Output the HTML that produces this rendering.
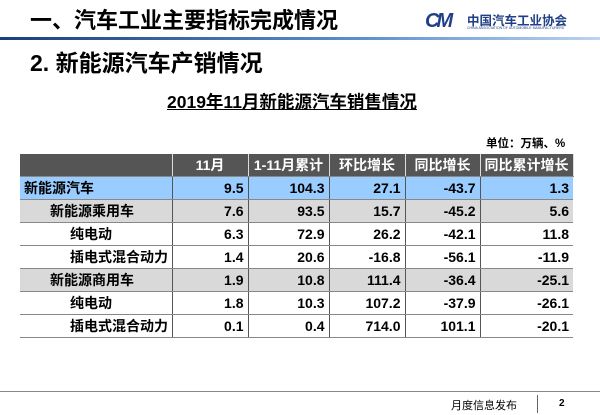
<!DOCTYPE html>
<html><head><meta charset="utf-8"><style>
body{margin:0;width:600px;height:415px;background:#fff;position:relative;overflow:hidden;font-family:"Liberation Sans","Noto Sans CJK SC",sans-serif;font-weight:bold;color:#000}
.a{position:absolute;white-space:nowrap}
table{position:absolute;left:20px;top:154px;border-collapse:collapse;font-size:14px;table-layout:fixed;width:553px}
td{height:23px;padding:0 4px;text-align:right;border-right:1px solid #555;border-bottom:1.5px solid #888;box-sizing:border-box;white-space:nowrap;overflow:visible}
td:last-child{border-right:none}
tr.h td{background:#555;color:#fff;text-align:center;border-right:1px solid #ddd;height:22px;padding:0}
tr.b td{background:#99ccff}
tr.g td{background:#d9d9d9}
td.n{text-align:left}
</style></head><body>
<div class="a" style="left:30px;top:3px;font-size:22px">一、汽车工业主要指标完成情况</div>
<div class="a" style="left:0;top:37px;width:600px;height:3px;background:linear-gradient(90deg,#1a3f7a,#5b8fd0 60%,#bcd4ef)"></div>
<div class="a" style="left:425px;top:12px;width:36px;height:18px;font-size:20px;color:#1f3f86;font-style:italic;letter-spacing:-3px;line-height:18px">CM</div>
<div class="a" style="left:467px;top:10px;font-size:12.5px;color:#1f3f86">中国汽车工业协会</div>
<div class="a" style="left:467px;top:26px;font-size:3.5px;color:#1f3f86;font-weight:normal">CHINA ASSOCIATION OF AUTOMOBILE MANUFACTURERS</div>
<div class="a" style="left:30px;top:44px;font-size:23px">2. 新能源汽车产销情况</div>
<div class="a" style="left:167px;top:89px;font-size:17.5px;text-decoration:underline">2019年11月新能源汽车销售情况</div>
<div class="a" style="left:486px;top:135px;font-size:11.5px">单位：万辆、%</div>
<table>
<colgroup><col style="width:152px"><col style="width:76px"><col style="width:81px"><col style="width:76px"><col style="width:75px"><col style="width:93px"></colgroup>
<tr class="h"><td></td><td>11月</td><td>1-11月累计</td><td>环比增长</td><td>同比增长</td><td>同比累计增长</td></tr>
<tr class="b"><td class="n">新能源汽车</td><td>9.5</td><td>104.3</td><td>27.1</td><td>-43.7</td><td>1.3</td></tr>
<tr class="g"><td class="n" style="padding-left:30px">新能源乘用车</td><td>7.6</td><td>93.5</td><td>15.7</td><td>-45.2</td><td>5.6</td></tr>
<tr><td class="n" style="padding-left:50px">纯电动</td><td>6.3</td><td>72.9</td><td>26.2</td><td>-42.1</td><td>11.8</td></tr>
<tr><td class="n" style="padding-left:50px">插电式混合动力</td><td>1.4</td><td>20.6</td><td>-16.8</td><td>-56.1</td><td>-11.9</td></tr>
<tr class="g"><td class="n" style="padding-left:30px">新能源商用车</td><td>1.9</td><td>10.8</td><td>111.4</td><td>-36.4</td><td>-25.1</td></tr>
<tr><td class="n" style="padding-left:50px">纯电动</td><td>1.8</td><td>10.3</td><td>107.2</td><td>-37.9</td><td>-26.1</td></tr>
<tr><td class="n" style="padding-left:50px">插电式混合动力</td><td>0.1</td><td>0.4</td><td>714.0</td><td>101.1</td><td>-20.1</td></tr>
</table>
<div class="a" style="left:0;top:391px;width:600px;height:1px;background:#888"></div>
<div class="a" style="left:451px;top:397px;font-size:11px;font-weight:normal">月度信息发布</div>
<div class="a" style="left:537px;top:395px;width:1px;height:18px;background:#666"></div>
<div class="a" style="left:559px;top:398px;font-size:10px">2</div>
</body></html>
